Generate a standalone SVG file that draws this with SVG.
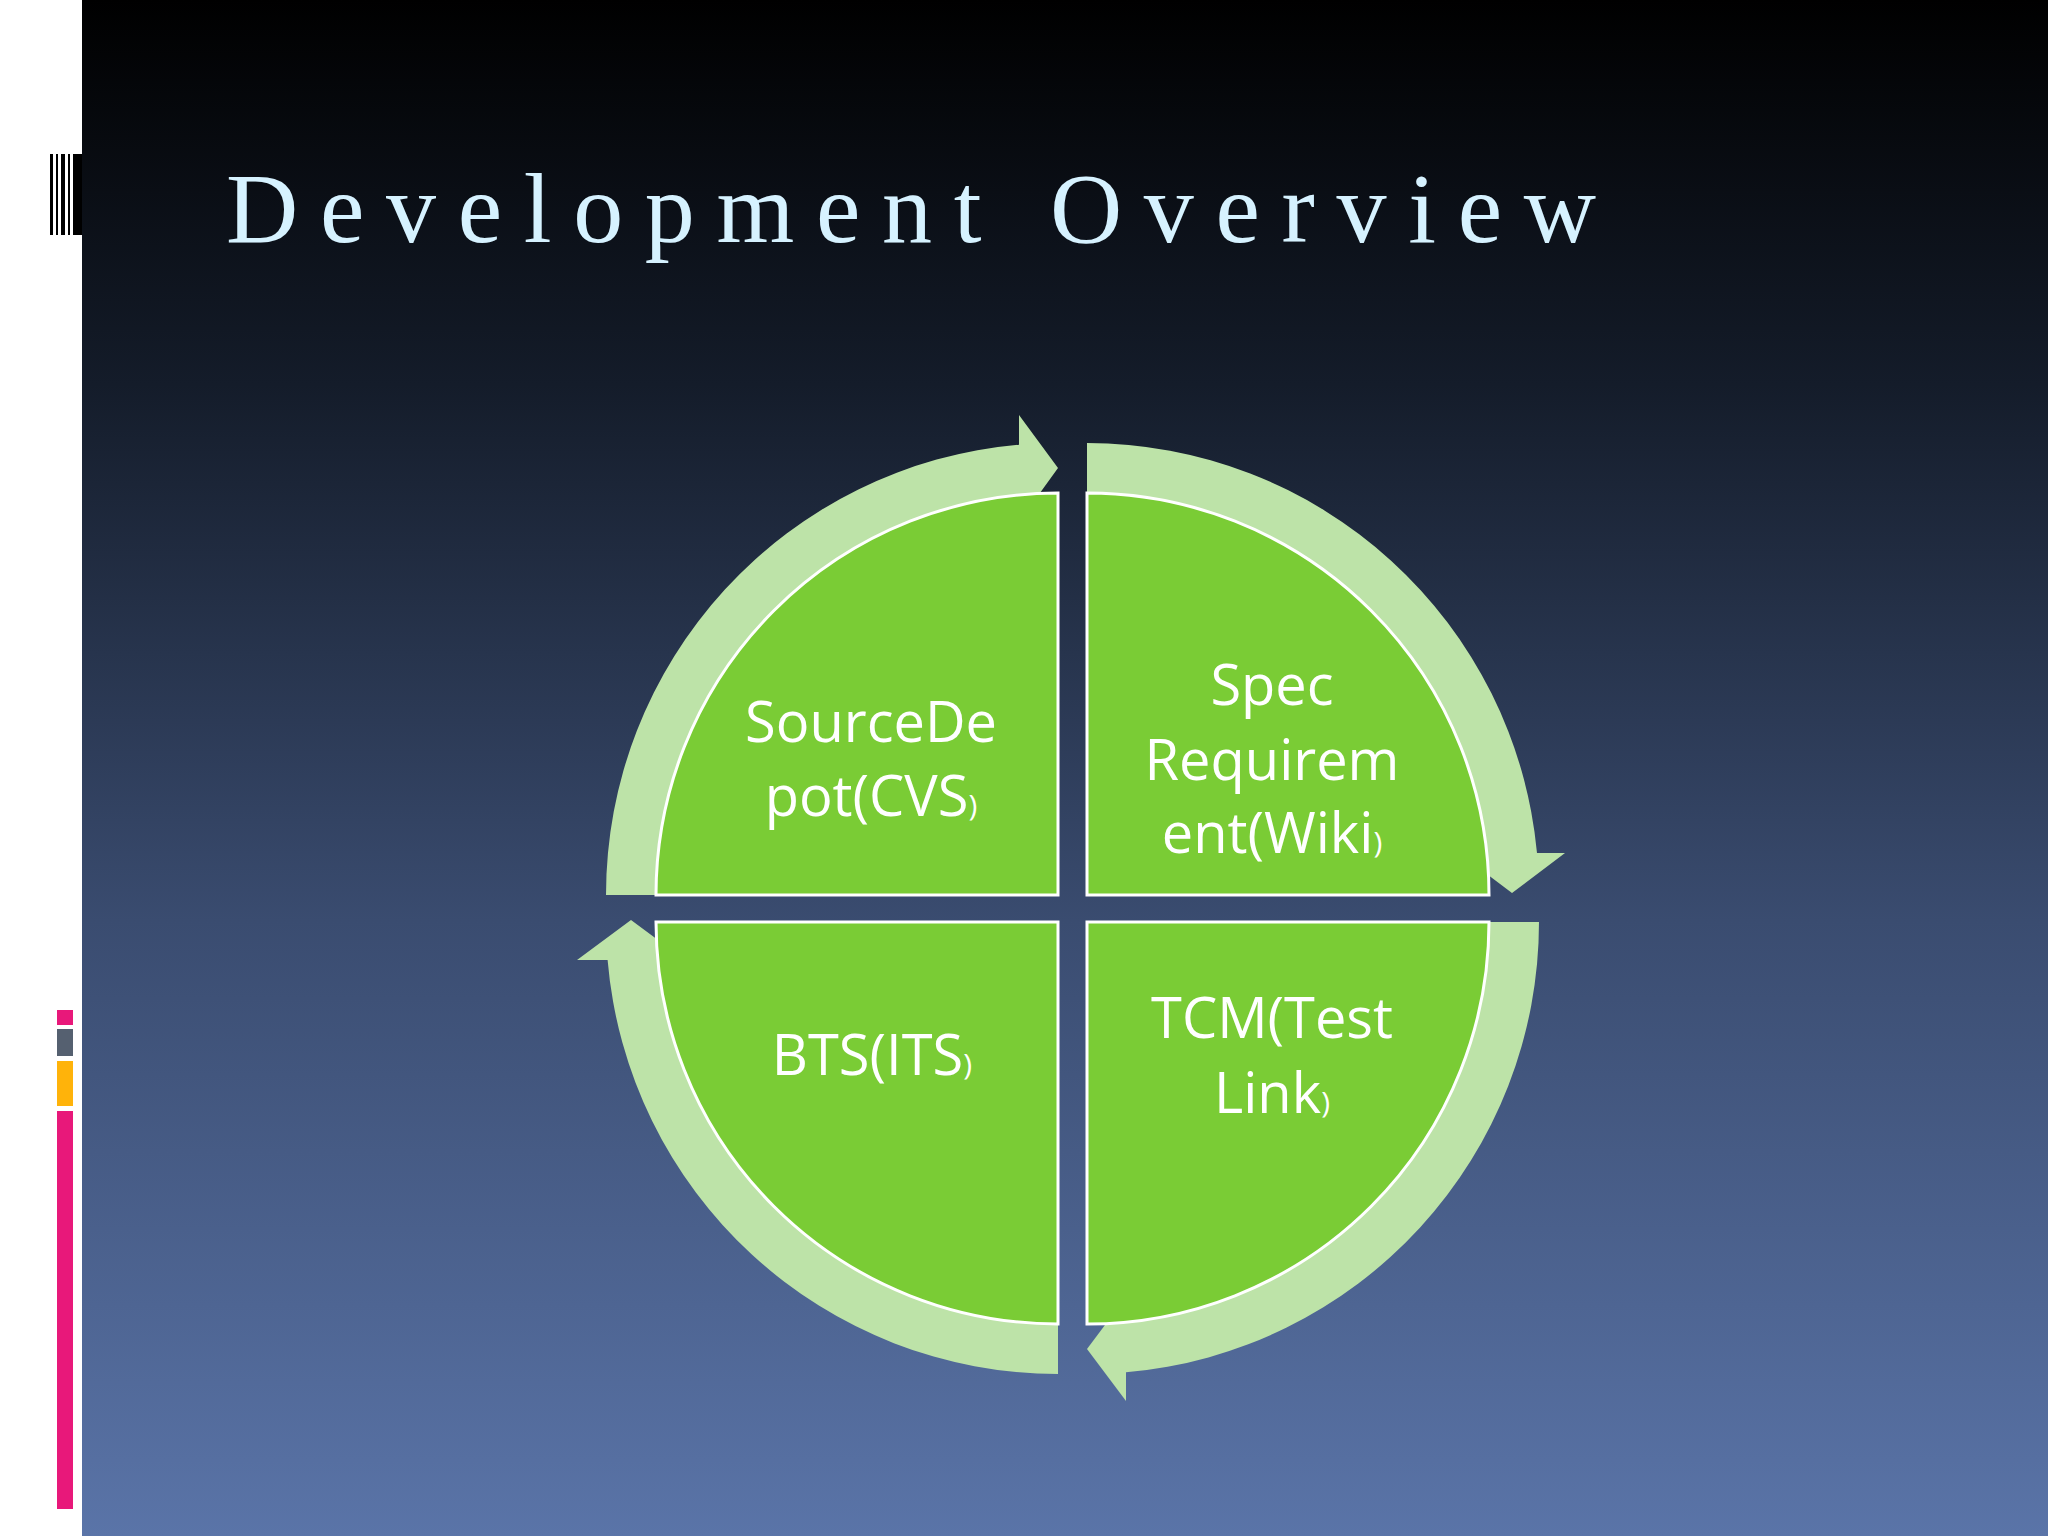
<svg xmlns="http://www.w3.org/2000/svg" width="2048" height="1536" viewBox="0 0 2048 1536">
<defs>
<linearGradient id="bg" x1="0" y1="0" x2="0" y2="1">
<stop offset="0" stop-color="#000000"/>
<stop offset="0.25" stop-color="#141c2a"/>
<stop offset="0.6" stop-color="#3a4c70"/>
<stop offset="1" stop-color="#5a74a8"/>
</linearGradient>
<style>
.ring{fill:#bde3a8}
.quad{fill:#7acc35;stroke:#ffffff;stroke-width:3}
.lbl{font-family:"Open Sans","Liberation Sans",sans-serif;font-size:56px;fill:#ffffff;text-anchor:middle}
.sm{font-size:30px}
</style>
</defs>
<rect width="2048" height="1536" fill="#ffffff"/>
<rect x="82" width="1966" height="1536" fill="url(#bg)"/>
<g id="barcode" fill="#000">
<rect x="50" y="154" width="3" height="81"/><rect x="56" y="154" width="2" height="81"/><rect x="61" y="154" width="4" height="81"/><rect x="68" y="154" width="2" height="81"/><rect x="73" y="154" width="9" height="81"/>
</g>
<g id="sidebars">
<rect x="57" y="1010" width="16" height="15" fill="#e8187a"/>
<rect x="57" y="1029" width="16" height="27" fill="#556070"/>
<rect x="57" y="1061" width="16" height="45" fill="#ffb30a"/>
<rect x="57" y="1111" width="16" height="398" fill="#e8187a"/>
</g>
<text id="title" x="226" y="242" font-family="Liberation Serif, serif" font-size="100" fill="#d6f2ff" textLength="1370" lengthAdjust="spacing">Development  Overview</text>
<g id="connectors">
<path class="ring" d="M606,895 A452,452 0 0 1 1019,444.7 L1019,415 L1058,468 L1019,522 L1019,494.9 A402,402 0 0 0 656,895 Z"/>
<path class="ring" d="M1087,443 A452,452 0 0 1 1537,853 L1565,853 L1512,893 L1459,853 L1487,853 A402,402 0 0 0 1087,493 Z"/>
<path class="ring" d="M1539,922 A452,452 0 0 1 1126,1372.3 L1126,1401 L1087,1349 L1126,1297 L1126,1322.1 A402,402 0 0 0 1489,922 Z"/>
<path class="ring" d="M1058,1374 A452,452 0 0 1 607.6,960 L577,960 L631,920 L685,960 L657.8,960 A402,402 0 0 0 1058,1324 Z"/>
</g>
<g id="q1"><path class="quad" d="M1058,895 L656,895 A402,402 0 0 1 1058,493 Z"/>
<text class="lbl" x="871" y="742">SourceDe</text><text class="lbl" x="871" y="816">pot(CVS<tspan class="sm">)</tspan></text></g>
<g id="q2"><path class="quad" d="M1087,895 L1087,493 A402,402 0 0 1 1489,895 Z"/>
<text class="lbl" x="1272" y="705">Spec</text><text class="lbl" x="1272" y="780">Requirem</text><text class="lbl" x="1272" y="853">ent(Wiki<tspan class="sm">)</tspan></text></g>
<g id="q3"><path class="quad" d="M1087,922 L1489,922 A402,402 0 0 1 1087,1324 Z"/>
<text class="lbl" x="1272" y="1038">TCM(Test</text><text class="lbl" x="1272" y="1113">Link<tspan class="sm">)</tspan></text></g>
<g id="q4"><path class="quad" d="M1058,922 L1058,1324 A402,402 0 0 1 656,922 Z"/>
<text class="lbl" x="872" y="1075">BTS(ITS<tspan class="sm">)</tspan></text></g>
</svg>
